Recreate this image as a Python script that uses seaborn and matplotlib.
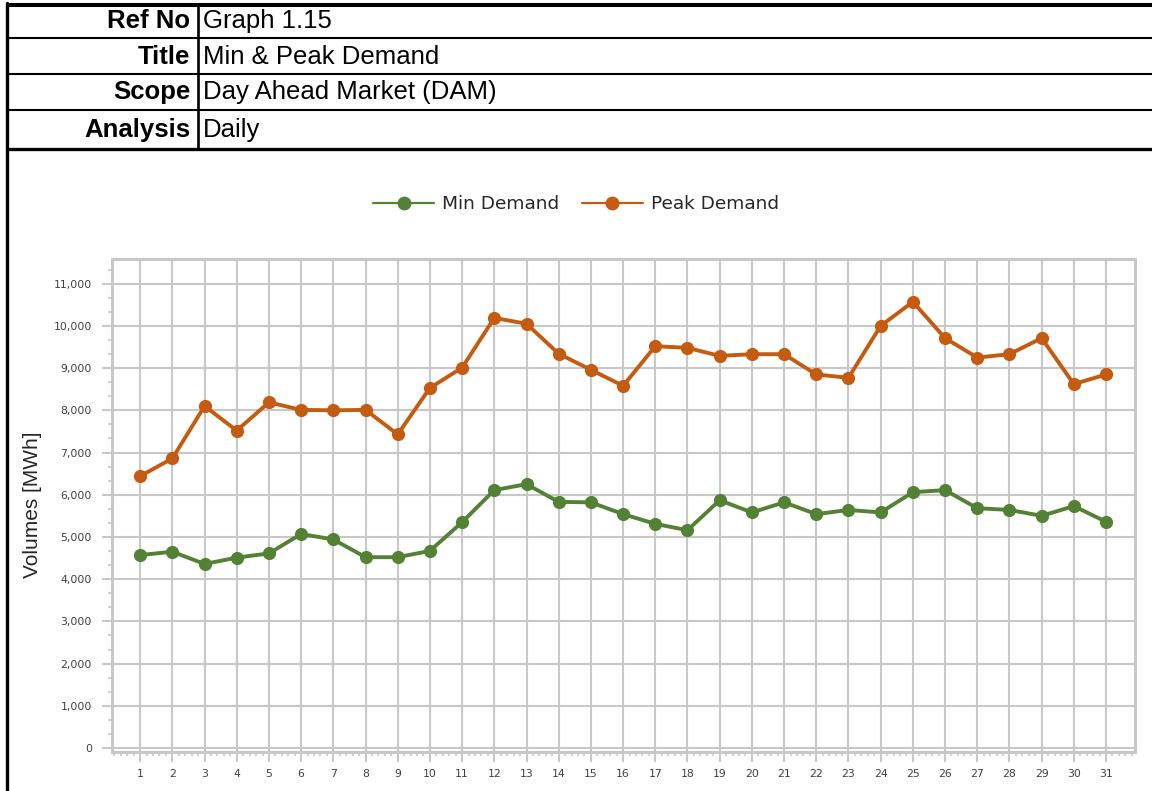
import pandas as pd
import matplotlib
matplotlib.use("Agg")
import matplotlib.pyplot as plt
from matplotlib.lines import Line2D
from matplotlib.ticker import MultipleLocator, AutoMinorLocator, FuncFormatter
import seaborn as sns

# Data
days = list(range(1, 32))
min_demand = [4570, 4650, 4360, 4510, 4610, 5070, 4940, 4520, 4520, 4670,
              5350, 6110, 6250, 5830, 5820, 5540, 5310, 5160, 5870, 5580,
              5820, 5540, 5640, 5580, 6060, 6110, 5680, 5640, 5500, 5730, 5360]
peak_demand = [6440, 6860, 8100, 7520, 8190, 8010, 8000, 8010, 7430, 8530,
               9010, 10190, 10050, 9340, 8960, 8580, 9520, 9480, 9290, 9330,
               9330, 8850, 8770, 10000, 10570, 9710, 9250, 9330, 9710, 8620, 8850]
series_names = ["Min Demand", "Peak Demand"]
series_colors = ["#548235", "#C55A11"]
header_labels = ["Ref No", "Title", "Scope", "Analysis"]
header_values = ["Graph 1.15", "Min & Peak Demand", "Day Ahead Market (DAM)", "Daily"]

df = pd.DataFrame({
    "day": days * 2,
    "value": min_demand + peak_demand,
    "series": [series_names[0]] * len(days) + [series_names[1]] * len(days),
})

sns.set_style("white")
plt.rcParams["font.family"] = ["DejaVu Sans"]

W, H = 1152, 791
fig = plt.figure(figsize=(W / 100, H / 100), dpi=100)

# header table
def hline(y, lw):
    fig.add_artist(Line2D([6 / W, 1], [1 - y / H, 1 - y / H], color="black", lw=lw,
                          transform=fig.transFigure, solid_capstyle="butt"))

hline(4.5, 2.9)
for y in [38.3, 74, 110]:
    hline(y, 1.5)
hline(148.5, 2.4)
fig.add_artist(Line2D([197.5 / W, 197.5 / W], [1 - 4 / H, 1 - 149 / H], color="black", lw=1.9,
                      transform=fig.transFigure))
fig.add_artist(Line2D([6.7 / W, 6.7 / W], [0, 1 - 3 / H], color="black", lw=2.4,
                      transform=fig.transFigure))
row_centers = [21, 56.5, 92.5, 130]
for yc, lab, val in zip(row_centers, header_labels, header_values):
    fig.text(190 / W, 1 - yc / H, lab, ha="right", va="center", fontsize=18.5,
             fontweight="bold", family="Liberation Sans", color="black")
    fig.text(203 / W, 1 - yc / H, val, ha="left", va="center", fontsize=18.5,
             family="Liberation Sans", color="black")

# chart
ax = fig.add_axes([112 / W, 1 - 752 / H, 1023 / W, 493 / H])
sns.lineplot(data=df, x="day", y="value", hue="series", hue_order=series_names,
             palette=series_colors, marker="o", markersize=9.5, markeredgewidth=0,
             linewidth=2.8, ax=ax)

grid_c = "#c8c8c8"
ax.set_xlim(0.125, 31.9)
ax.set_ylim(-95, 11585)
ax.set_xticks(days)
ax.xaxis.set_minor_locator(AutoMinorLocator(5))
ax.yaxis.set_major_locator(MultipleLocator(1000))
ax.yaxis.set_minor_locator(AutoMinorLocator(3))
ax.yaxis.set_major_formatter(FuncFormatter(lambda v, p: f"{int(v):,}"))
ax.set_axisbelow(True)
ax.grid(True, which="major", color=grid_c, lw=1.5)
for s in ax.spines.values():
    s.set_color(grid_c)
    s.set_linewidth(2.2)
ax.tick_params(which="both", bottom=True, left=True, top=False, right=False, direction="out")
ax.tick_params(which="major", length=7.5, width=1.5, color=grid_c, labelsize=7.8,
               labelcolor="#404040")
ax.tick_params(axis="x", which="major", pad=5)
ax.tick_params(axis="y", which="major", pad=7)
ax.tick_params(which="minor", length=3, width=1.2, color=grid_c)
ax.set_xlabel("")
ax.set_ylabel("")

fig.text(33 / W, 1 - 505 / H, "Volumes [MWh]", rotation=90, ha="center", va="center",
         fontsize=15, family="Liberation Sans", color="#262626")

handles, labels = ax.get_legend_handles_labels()
ax.get_legend().remove()
for h in handles:
    h.set_linewidth(1.6)
    h.set_markersize(10)
fig.legend(handles, labels, loc="center", bbox_to_anchor=(0.5, 1 - 204 / H), ncol=2,
           frameon=False, fontsize=13.3, handlelength=3.3, handletextpad=0.45,
           columnspacing=1.2, labelcolor="#262626")

fig.savefig("out.png", dpi=100)
